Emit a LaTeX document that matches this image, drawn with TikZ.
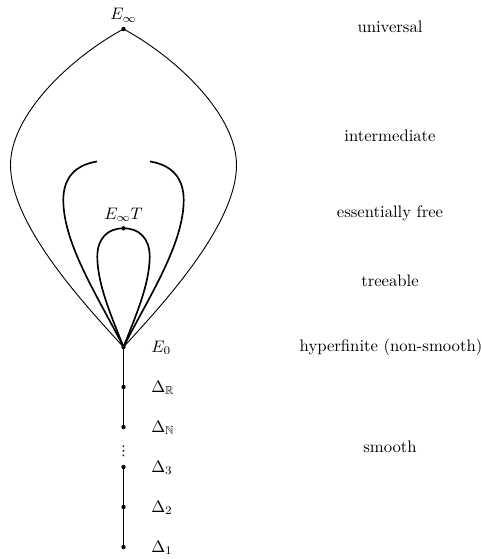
\documentclass[tikz,border=0pt]{standalone}
\usepackage{amssymb}
\usepackage{fontspec}
\newfontfamily\dejavu{DejaVu Sans}
\begin{document}
\begin{tikzpicture}[x=0.6pt,y=-0.6pt,
  dot/.style={circle,fill=black,inner sep=0pt,minimum size=2.6pt},
  thin curve/.style={line width=0.55pt},
  thick curve/.style={line width=1.0pt},
  lbl/.style={inner sep=0pt,anchor=base west},
  cls/.style={inner sep=0pt,anchor=base}]
\useasboundingbox (0,0) rectangle (482,559);
% points
\node[dot] (Einf) at (123.5,29) {};
\node[dot] (EinfT) at (123.5,228.3) {};
\node[dot] (E0) at (123.5,347) {};
\node[dot] (DR) at (123.5,387) {};
\node[dot] (DN) at (123.5,427) {};
\node[dot] (D3) at (123.5,467) {};
\node[dot] (D2) at (123.5,507) {};
\node[dot] (D1) at (123.5,547) {};
\node[inner sep=0pt,anchor=base] (vd) at (123.5,455) {\dejavu\fontsize{8pt}{8pt}\selectfont ⋮};
% labels
\node[inner sep=0pt,anchor=base] (lEinf) at (123.5,20) {$E_\infty$};
\node[inner sep=0pt,anchor=base] (lEinfT) at (123.5,219) {$E_\infty T$};
\node[lbl] (lE0) at (151,352) {$E_0$};
\node[lbl] (lDR) at (151,392) {$\Delta_{\mathbb{R}}$};
\node[lbl] (lDN) at (151,432) {$\Delta_{\mathbb{N}}$};
\node[lbl] (lD3) at (151,472) {$\Delta_3$};
\node[lbl] (lD2) at (151,512) {$\Delta_2$};
\node[lbl] (lD1) at (151,552) {$\Delta_1$};
% classes
\node[cls] (cu) at (390,33) {universal};
\node[cls] (ci) at (390,141) {intermediate};
\node[cls] (ce) at (390,217) {essentially free};
\node[cls] (ct) at (390,286) {treeable};
\node[cls] (ch) at (391,351) {hyperfinite (non-smooth)};
\node[cls] (cs) at (390,452) {smooth};
% outer curve (universal)
\draw[thin curve] (Einf.center) .. controls (70,58) and (10.5,115) .. (10.5,165)
  .. controls (10.5,225) and (85,305) .. (E0.center);
\draw[thin curve] (Einf.center) .. controls (177,58) and (236.5,115) .. (236.5,165)
  .. controls (236.5,225) and (162,305) .. (E0.center);
% intermediate (open) curves
\coordinate (mL) at (97,161.5);
\coordinate (mR) at (150,161.5);
\draw[thick curve] (mL) .. controls (75,165) and (63.3,178) .. (63.3,200)
  .. controls (63.3,245) and (100,300) .. (E0.center);
\draw[thick curve] (mR) .. controls (172,165) and (183.7,178) .. (183.7,200)
  .. controls (183.7,245) and (147,300) .. (E0.center);
% treeable loop
\draw[thick curve] (EinfT.center) .. controls (108,228.3) and (97.3,238) .. (97.3,256.7)
  .. controls (97.3,285) and (113,320) .. (E0.center);
\draw[thick curve] (EinfT.center) .. controls (139,228.3) and (149.7,238) .. (149.7,256.7)
  .. controls (149.7,285) and (134,320) .. (E0.center);
% smooth chain
\draw[thin curve] (E0.center) -- (DR.center) -- (DN.center);
\draw[thin curve] (D3.center) -- (D2.center) -- (D1.center);
\end{tikzpicture}
\end{document}
